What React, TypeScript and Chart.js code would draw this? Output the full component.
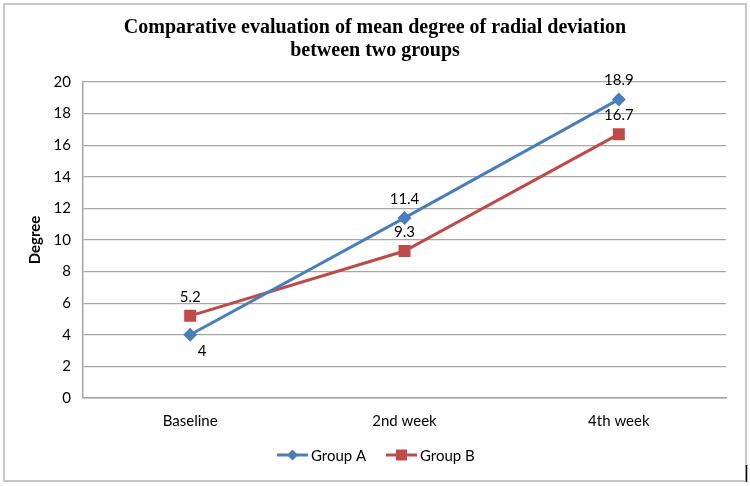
import React, { useEffect, useRef } from "react";
import { Chart, registerables } from "chart.js";

Chart.register(...registerables);

const categories = ["Baseline", "2nd week", "4th week"];
const groupA = [4, 11.4, 18.9];
const groupB = [5.2, 9.3, 16.7];
const labelPosA = ["below", "above", "above"];
const labelPosB = ["above", "above", "above"];
const titleLines = [
  "Comparative evaluation of mean degree of radial deviation",
  "between two groups",
];
const yTitle = "Degree";
const seriesNames = ["Group A", "Group B"];

const BLUE = "#4A7EBB";
const RED = "#BE4B48";
const SANS = "Lato, 'Liberation Sans', sans-serif";

const decorPlugin = {
  id: "decor",
  afterDraw(chart: any) {
    const ctx = chart.ctx;
    ctx.save();
    // outer border
    ctx.strokeStyle = "#c8c8c8";
    ctx.lineWidth = 2;
    ctx.strokeRect(4, 4, 742, 477);
    ctx.strokeStyle = "#000";
    ctx.lineWidth = 1.5;
    ctx.beginPath();
    ctx.moveTo(746.5, 465);
    ctx.lineTo(746.5, 482);
    ctx.stroke();

    // title
    ctx.fillStyle = "#000";
    ctx.font = "bold 20px 'Liberation Serif', serif";
    ctx.textAlign = "center";
    ctx.textBaseline = "middle";
    ctx.fillText(titleLines[0], 375, 28);
    ctx.fillText(titleLines[1], 375, 51);

    // data labels
    ctx.font = "15px " + SANS;
    const pos = [labelPosA, labelPosB];
    chart.data.datasets.forEach((ds: any, di: number) => {
      const meta = chart.getDatasetMeta(di);
      meta.data.forEach((pt: any, i: number) => {
        const p = pos[di][i];
        const y = p === "below" ? pt.y + 16 : pt.y - 19;
        const x = p === "below" ? pt.x + 12 : pt.x;
        ctx.fillText(String(ds.data[i]), x, y);
      });
    });

    // legend
    const ly = 455;
    const items = [
      { x: 277, color: BLUE, shape: "diamond", name: seriesNames[0] },
      { x: 386, color: RED, shape: "square", name: seriesNames[1] },
    ];
    items.forEach((it) => {
      ctx.strokeStyle = it.color;
      ctx.lineWidth = 3;
      ctx.beginPath();
      ctx.moveTo(it.x, ly);
      ctx.lineTo(it.x + 31, ly);
      ctx.stroke();
      ctx.fillStyle = it.color;
      const cx = it.x + 15.5;
      if (it.shape === "diamond") {
        ctx.beginPath();
        ctx.moveTo(cx, ly - 5.5);
        ctx.lineTo(cx + 5.5, ly);
        ctx.lineTo(cx, ly + 5.5);
        ctx.lineTo(cx - 5.5, ly);
        ctx.closePath();
        ctx.fill();
      } else {
        ctx.fillRect(cx - 5.5, ly - 5.5, 11, 11);
      }
      ctx.fillStyle = "#000";
      ctx.textAlign = "left";
      ctx.fillText(it.name, it.x + 34, ly + 1);
    });
    ctx.restore();
  },
};

export default function App() {
  const ref = useRef<HTMLCanvasElement | null>(null);
  useEffect(() => {
    if (!ref.current) return;
    const chart = new Chart(ref.current, {
      type: "line",
      data: {
        labels: categories,
        datasets: [
          {
            label: seriesNames[0],
            data: groupA,
            borderColor: BLUE,
            backgroundColor: BLUE,
            borderWidth: 3,
            pointStyle: "rectRot",
            pointRadius: 7,
            pointBorderWidth: 0,
            tension: 0,
          },
          {
            label: seriesNames[1],
            data: groupB,
            borderColor: RED,
            backgroundColor: RED,
            borderWidth: 3,
            pointStyle: "rect",
            pointRadius: 8.5,
            pointBorderWidth: 0,
            tension: 0,
          },
        ],
      },
      options: {
        animation: false,
        responsive: false,
        layout: { padding: { top: 82, left: 26, right: 24, bottom: 48 } },
        plugins: {
          legend: { display: false },
          title: { display: false },
          tooltip: { enabled: false },
        },
        scales: {
          x: {
            offset: true,
            grid: { display: false, drawTicks: false },
            border: { color: "#a6a6a6", width: 1.5 },
            ticks: {
              color: "#000",
              font: { family: SANS, size: 15 },
              padding: 14,
            },
            afterFit: (s: any) => {
              s.height = 40;
            },
          },
          y: {
            min: 0,
            max: 20,
            ticks: {
              stepSize: 2,
              color: "#000",
              font: { family: SANS, size: 15 },
              padding: 12,
            },
            grid: { color: "#a6a6a6", lineWidth: 1.2, drawTicks: false },
            border: { color: "#a6a6a6", width: 1.5 },
            title: {
              display: true,
              text: yTitle,
              color: "#000",
              font: { family: SANS, size: 15, weight: "bold" },
              padding: { top: 0, bottom: 0 },
            },
            afterFit: (s: any) => {
              s.width = 57;
            },
          },
        },
      },
      plugins: [decorPlugin],
    });
    return () => chart.destroy();
  }, []);
  return (
    <div style={{ position: "fixed", left: 0, top: 0, width: 750, height: 486, background: "#fff" }}>
      <canvas ref={ref} width={750} height={486} style={{ display: "block" }} />
    </div>
  );
}
